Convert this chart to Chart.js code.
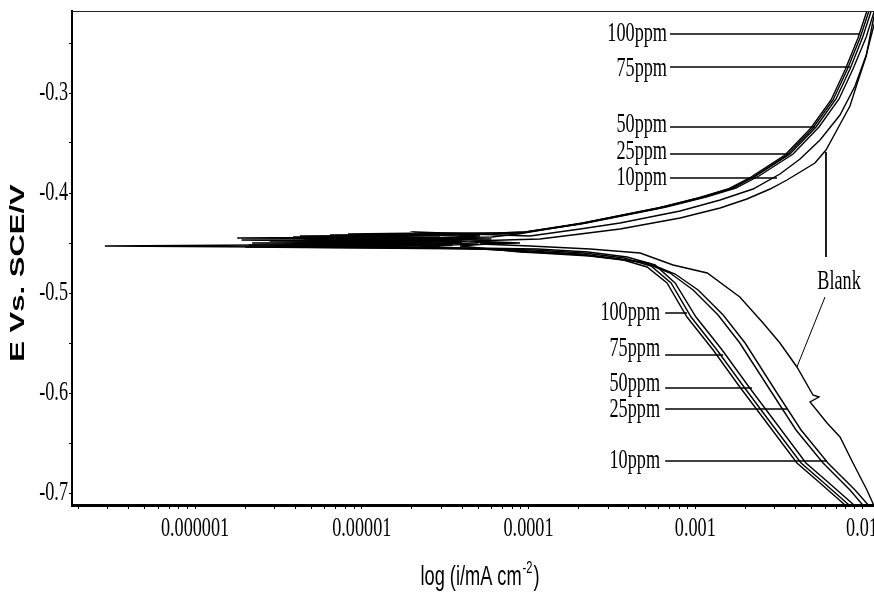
<!DOCTYPE html>
<html>
<head>
<meta charset="utf-8">
<script src="https://cdn.jsdelivr.net/npm/chart.js@4"></script>
<style>
html,body{margin:0;padding:0;background:#fff;overflow:hidden;}
canvas{display:block;}
</style>
</head>
<body>
<canvas id="stage" width="874" height="596"></canvas>
<script>
//系列名
var SERIES = ['Blank','10ppm','25ppm','50ppm','75ppm','100ppm'];
//各系列 E(V) と 電流(mA cm-2)  カソード側末端 → Ecorr付近 → アノード側末端の順
var E_BLANK = [-0.717,-0.710,-0.697,-0.670,-0.644,-0.630,-0.609,-0.604,-0.602,-0.574,-0.550,-0.530,-0.504,-0.480,-0.472,-0.460,-0.456,-0.453,-0.451,-0.450,-0.448,-0.446,-0.441,-0.436,-0.425,-0.415,-0.406,-0.396,-0.387,-0.370,-0.357,-0.335,-0.313,-0.291,-0.263,-0.229,-0.207];
var I_BLANK = [1.21e-2,1.16e-2,1.07e-2,8.83e-3,7.38e-3,6.17e-3,4.88e-3,5.52e-3,5.08e-3,4.07e-3,3.22e-3,2.55e-3,1.85e-3,1.18e-3,7.36e-4,4.67e-4,2.34e-4,1.02e-4,5.12e-5,8.89e-5,4.46e-5,1.17e-4,2.04e-4,3.54e-4,8.11e-4,1.41e-3,2.04e-3,2.81e-3,3.55e-3,5.22e-3,6.08e-3,7.18e-3,8.47e-3,9.33e-3,1.06e-2,1.16e-2,1.25e-2];
var E_10 = [-0.712,-0.697,-0.670,-0.637,-0.597,-0.550,-0.522,-0.497,-0.481,-0.470,-0.463,-0.460,-0.459,-0.453,-0.450,-0.447,-0.446,-0.445,-0.443,-0.440,-0.439,-0.441,-0.443,-0.436,-0.430,-0.418,-0.407,-0.396,-0.381,-0.366,-0.347,-0.322,-0.293,-0.262,-0.232,-0.207];
var I_10 = [1.09e-2,9.08e-3,6.25e-3,4.31e-3,3.01e-3,1.99e-3,1.47e-3,1.04e-3,7.57e-4,5.21e-4,2.34e-4,1.17e-4,8.89e-5,3.88e-5,6.75e-5,2.0e-5,6.0e-5,2.57e-5,5.12e-5,2.2e-5,2.09e-5,4.46e-5,1.02e-4,2.04e-4,3.54e-4,8.11e-4,1.41e-3,2.22e-3,3.22e-3,4.25e-3,5.60e-3,7.38e-3,9.08e-3,1.06e-2,1.18e-2,1.28e-2];
var E_25 = [-0.712,-0.697,-0.670,-0.637,-0.597,-0.550,-0.522,-0.497,-0.480,-0.469,-0.462,-0.459,-0.457,-0.453,-0.451,-0.449,-0.448,-0.446,-0.444,-0.443,-0.442,-0.441,-0.440,-0.440,-0.439,-0.430,-0.422,-0.414,-0.404,-0.395,-0.383,-0.361,-0.334,-0.306,-0.276,-0.244,-0.219,-0.207];
var I_25 = [1.01e-2,8.47e-3,5.84e-3,4.02e-3,2.81e-3,1.85e-3,1.37e-3,9.71e-4,7.06e-4,4.86e-4,2.12e-4,1.02e-4,6.75e-5,2.24e-5,5.0e-5,1.0e-5,4.0e-5,9.76e-6,2.94e-5,9.0e-6,3.5e-5,8.28e-6,2.57e-5,6.75e-5,9.66e-5,2.21e-4,3.85e-4,6.68e-4,1.16e-3,1.75e-3,2.41e-3,3.86e-3,5.52e-3,7.28e-3,8.83e-3,1.06e-2,1.18e-2,1.26e-2];
var E_50 = [-0.712,-0.690,-0.670,-0.630,-0.594,-0.557,-0.524,-0.490,-0.472,-0.464,-0.459,-0.456,-0.455,-0.453,-0.452,-0.451,-0.450,-0.448,-0.446,-0.445,-0.444,-0.443,-0.442,-0.441,-0.439,-0.430,-0.422,-0.414,-0.404,-0.395,-0.383,-0.361,-0.334,-0.306,-0.276,-0.244,-0.219,-0.207];
var I_50 = [8.95e-3,6.34e-3,4.61e-3,3.05e-3,2.10e-3,1.45e-3,1.01e-3,7.57e-4,5.74e-4,3.90e-4,2.28e-4,1.14e-4,4.46e-5,3.0e-6,3.5e-5,8.50e-6,4.0e-5,2.94e-5,4.5e-6,3.0e-5,3.87e-6,1.69e-5,6.45e-6,4.46e-5,9.53e-5,2.12e-4,3.69e-4,6.41e-4,1.11e-3,1.68e-3,2.31e-3,3.70e-3,5.30e-3,6.98e-3,8.47e-3,1.01e-2,1.13e-2,1.21e-2];
var E_75 = [-0.712,-0.690,-0.670,-0.630,-0.594,-0.557,-0.524,-0.490,-0.473,-0.465,-0.460,-0.457,-0.456,-0.454,-0.453,-0.452,-0.451,-0.450,-0.449,-0.447,-0.446,-0.445,-0.444,-0.443,-0.442,-0.440,-0.431,-0.423,-0.415,-0.405,-0.396,-0.384,-0.362,-0.335,-0.307,-0.277,-0.245,-0.220,-0.207];
var I_75 = [8.36e-3,5.92e-3,4.31e-3,2.84e-3,1.96e-3,1.35e-3,9.44e-4,7.16e-4,5.43e-4,3.74e-4,2.15e-4,1.08e-4,5.41e-5,2.0e-6,2.94e-5,2.1e-6,3.5e-5,4.26e-6,2.24e-5,1.9e-6,3.0e-5,1.79e-6,1.29e-5,4.26e-6,3.88e-5,8.89e-5,2.04e-4,3.54e-4,6.15e-4,1.07e-3,1.62e-3,2.22e-3,3.55e-3,5.08e-3,6.70e-3,8.13e-3,9.73e-3,1.09e-2,1.16e-2];
var E_100 = [-0.712,-0.690,-0.670,-0.630,-0.594,-0.557,-0.524,-0.490,-0.474,-0.466,-0.461,-0.458,-0.456,-0.455,-0.453,-0.452,-0.451,-0.450,-0.449,-0.448,-0.447,-0.446,-0.444,-0.441,-0.431,-0.423,-0.415,-0.405,-0.396,-0.384,-0.362,-0.335,-0.307,-0.277,-0.245,-0.220,-0.207];
var I_100 = [7.91e-3,5.60e-3,4.07e-3,2.69e-3,1.85e-3,1.28e-3,8.92e-4,6.77e-4,5.14e-4,3.54e-4,2.04e-4,1.02e-4,5.12e-5,2.57e-5,2.88e-7,2.45e-6,3.2e-5,2.2e-6,4.0e-5,2.8e-6,4.46e-5,6.0e-6,6.0e-5,8.65e-5,1.98e-4,3.44e-4,5.98e-4,1.04e-3,1.57e-3,2.16e-3,3.45e-3,4.94e-3,6.52e-3,7.91e-3,9.46e-3,1.06e-2,1.13e-2];
var SERIES_E = [E_BLANK,E_10,E_25,E_50,E_75,E_100];
var SERIES_I = [I_BLANK,I_10,I_25,I_50,I_75,I_100];

//引出し線 (始点I,E → 終点I,E)
var LEADER_I0 = [7.06e-4,7.06e-4,7.06e-4,7.06e-4,7.06e-4,6.6e-4,6.6e-4,6.6e-4,6.6e-4,6.6e-4,6.08e-3,6.0e-3];
var LEADER_E0 = [-0.241,-0.274,-0.334,-0.361,-0.385,-0.520,-0.562,-0.595,-0.616,-0.668,-0.359,-0.504];
var LEADER_I1 = [9.73e-3,8.47e-3,5.22e-3,3.70e-3,3.09e-3,8.92e-4,1.47e-3,2.19e-3,3.60e-3,6.17e-3,6.08e-3,4.07e-3];
var LEADER_E1 = [-0.241,-0.274,-0.334,-0.361,-0.385,-0.520,-0.562,-0.595,-0.616,-0.668,-0.464,-0.574];
//ラベル文字 (右端のI, 中心のE)
var LABEL_TEXT = ['100ppm','75ppm','50ppm','25ppm','10ppm','100ppm','75ppm','50ppm','25ppm','10ppm'];
var LABEL_I = [6.77e-4,6.77e-4,6.77e-4,6.77e-4,6.77e-4,6.15e-4,6.15e-4,6.15e-4,6.15e-4,6.15e-4];
var LABEL_E = [-0.241,-0.276,-0.332,-0.359,-0.385,-0.520,-0.556,-0.591,-0.617,-0.668];
var BLANK_TEXT = 'Blank', BLANK_I = 7.28e-3, BLANK_E = -0.489;

//軸
var X_MIN = 1.829e-7, X_MAX = 1.18e-2;
var X_DECADES = [1e-7,1e-6,1e-5,1e-4,1e-3,1e-2];
var X_MINOR = [2,3,4,5,6,7,8,9];
var X_TICK_VALUES = [1e-6,1e-5,1e-4,1e-3,1e-2];
var X_TICK_LABELS = ['0.000001','0.00001','0.0001','0.001','0.01'];
var Y_MIN = -0.712, Y_MAX = -0.218;
var Y_TICKS = [-0.7,-0.65,-0.6,-0.55,-0.5,-0.45,-0.4,-0.35,-0.3,-0.25];
var Y_TICK_VALUES = [-0.7,-0.6,-0.5,-0.4,-0.3];
var Y_TICK_LABELS = ['-0.7','-0.6','-0.5','-0.4','-0.3'];
var X_TITLE = 'log (i/mA cm', X_TITLE_SUP = '-2', X_TITLE_END = ')';
var Y_TITLE = 'E Vs. SCE/V';

var SQUEEZE = 0.65;//元画像の文字は横に潰れているので合わせる
var SERIF = "'Liberation Serif','Times New Roman',serif";
var SANS = "'Liberation Sans',Arial,sans-serif";

var canvas = document.getElementById('stage');
var ctx = canvas.getContext('2d');
//fillTextを横方向に縮める(アンカー点基準)
var rawFill = ctx.fillText;
ctx.fillText = function(t, x, y, mw){
  var m = this.getTransform();
  var px = m.a * x + m.c * y + m.e;
  this.save();
  this.setTransform(new DOMMatrix([SQUEEZE,0,0,1,px * (1 - SQUEEZE),0]).multiply(m));
  if (mw === undefined) rawFill.call(this, t, x, y);
  else rawFill.call(this, t, x, y, mw);
  this.restore();
};

function MakePts(I, E){
  var pts = [];
  for (let k = 0; k < E.length; k++) pts.push({x: I[k], y: E[k]});
  return pts;
}

var X_TICKS = [];
for (let d = 0; d < X_DECADES.length; d++){
  if (d > 0) X_TICKS.push(X_DECADES[d]);
  if (d < X_DECADES.length - 1)
    for (let k = 0; k < X_MINOR.length; k++) X_TICKS.push(X_MINOR[k] * X_DECADES[d]);
}

var datasets = [];
for (let s = 0; s < SERIES.length; s++){
  datasets.push({label: SERIES[s], data: MakePts(SERIES_I[s], SERIES_E[s]),
    borderColor: '#000', borderWidth: 1.4, showLine: true, pointRadius: 0, tension: 0, fill: false});
}
for (let k = 0; k < LEADER_I0.length; k++){
  datasets.push({label: 'leader' + k, data: [{x: LEADER_I0[k], y: LEADER_E0[k]}, {x: LEADER_I1[k], y: LEADER_E1[k]}],
    borderColor: '#000', borderWidth: k < 10 ? 1.5 : 1, showLine: true, pointRadius: 0, fill: false});
}

//ラベル・軸タイトル・上枠
var textPlugin = {
  id: 'texts',
  afterDraw: function(chart){
    var c = chart.ctx, xs = chart.scales.x, ys = chart.scales.y, ca = chart.chartArea;
    c.save();
    c.strokeStyle = '#222';
    c.lineWidth = 1;
    c.beginPath();
    c.moveTo(ca.left, ca.top + 0.5);
    c.lineTo(ca.right, ca.top + 0.5);
    c.stroke();

    c.fillStyle = '#000';
    c.font = '28px ' + SERIF;
    c.textBaseline = 'middle';
    c.textAlign = 'right';
    for (let k = 0; k < LABEL_TEXT.length; k++)
      c.fillText(LABEL_TEXT[k], xs.getPixelForValue(LABEL_I[k]), ys.getPixelForValue(LABEL_E[k]));
    c.textAlign = 'center';
    c.fillText(BLANK_TEXT, xs.getPixelForValue(BLANK_I), ys.getPixelForValue(BLANK_E));

    //x軸タイトル (上付き -2)
    c.textBaseline = 'alphabetic';
    c.textAlign = 'left';
    c.font = '28px ' + SANS;
    var w1 = c.measureText(X_TITLE).width * SQUEEZE;
    var w3 = c.measureText(X_TITLE_END).width * SQUEEZE;
    c.font = '17px ' + SANS;
    var w2 = c.measureText(X_TITLE_SUP).width * SQUEEZE;
    var cx = (ca.left + ca.right) / 2 + 6, by = 585;
    var x0 = cx - (w1 + w2 + w3) / 2;
    c.font = '28px ' + SANS;
    c.fillText(X_TITLE, x0, by);
    c.font = '17px ' + SANS;
    c.fillText(X_TITLE_SUP, x0 + w1 + 1, by - 12);
    c.font = '28px ' + SANS;
    c.fillText(X_TITLE_END, x0 + w1 + w2 + 2, by);

    //y軸タイトル
    c.translate(18, (ca.top + ca.bottom) / 2 + 15);
    c.rotate(-Math.PI / 2);
    c.textAlign = 'center';
    c.textBaseline = 'middle';
    c.font = 'bold 31px ' + SANS;
    c.fillText(Y_TITLE, 0, 0);
    c.restore();
  }
};

window.myLine = new Chart(canvas, {
  type: 'scatter',
  data: {datasets: datasets},
  plugins: [textPlugin],
  options: {
    responsive: false,
    devicePixelRatio: 1,
    animation: false,
    layout: {padding: {top: 11, left: 0, right: 0, bottom: 0}},
    plugins: {legend: {display: false}, tooltip: {enabled: false}},
    scales: {
      x: {
        type: 'logarithmic', min: X_MIN, max: X_MAX, position: 'bottom',
        afterBuildTicks: function(sc){ sc.ticks = X_TICKS.map(v => ({value: v})); },
        afterFit: function(sc){ sc.height = 91; sc.paddingLeft = 0; sc.paddingRight = 0; },
        ticks: {
          autoSkip: false, maxRotation: 0, minRotation: 0, padding: 3, color: '#000',
          font: {family: SERIF, size: 28},
          callback: function(v){
            var k = X_TICK_VALUES.findIndex(t => Math.abs(Math.log10(t) - Math.log10(v)) < 1e-6);
            return k >= 0 ? X_TICK_LABELS[k] : '';
          }
        },
        grid: {drawOnChartArea: false, drawTicks: true, tickLength: 4, color: '#000', lineWidth: 1},
        border: {display: true, color: '#000', width: 3}
      },
      y: {
        type: 'linear', min: Y_MIN, max: Y_MAX,
        afterBuildTicks: function(sc){ sc.ticks = Y_TICKS.map(v => ({value: v})); },
        afterFit: function(sc){ sc.width = 72; sc.paddingTop = 0; sc.paddingBottom = 0; },
        ticks: {
          padding: 1, color: '#000', font: {family: SERIF, size: 28},
          callback: function(v){
            var k = Y_TICK_VALUES.findIndex(t => Math.abs(t - v) < 1e-6);
            return k >= 0 ? Y_TICK_LABELS[k] : '';
          }
        },
        grid: {drawOnChartArea: false, drawTicks: true, tickLength: 3, color: '#000', lineWidth: 1},
        border: {display: true, color: '#000', width: 2}
      }
    }
  }
});
</script>
</body>
</html>
